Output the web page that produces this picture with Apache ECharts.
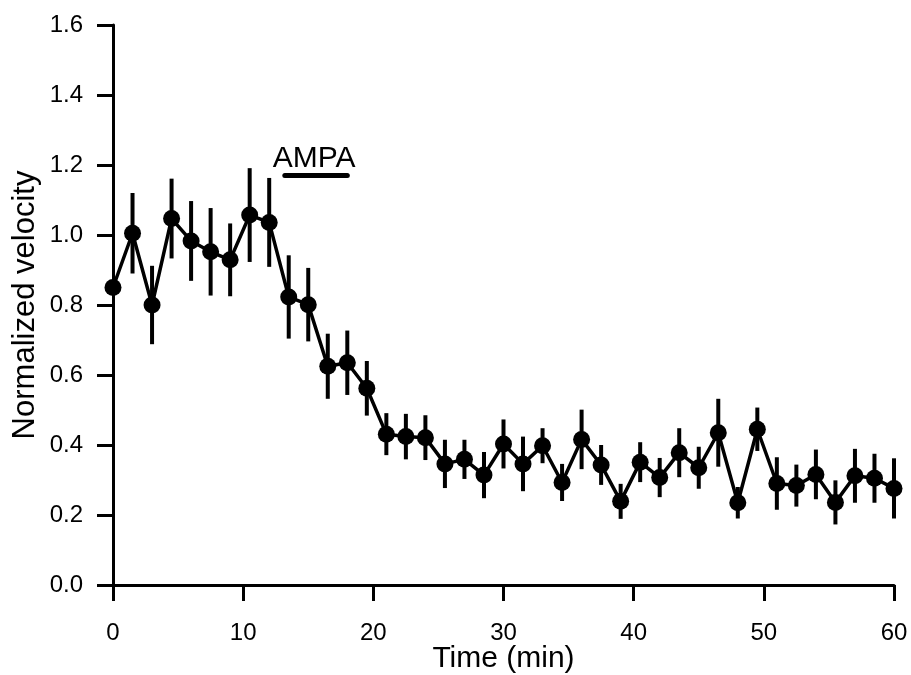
<!DOCTYPE html>
<html>
<head>
<meta charset="utf-8">
<title>Normalized velocity</title>
<script src="https://cdn.jsdelivr.net/npm/echarts@6/dist/echarts.min.js"></script>
<style>
  html, body { margin: 0; padding: 0; background: #fff; }
  #main { width: 911px; height: 675px; }
</style>
</head>
<body>
<div id="main"></div>
<script>
// time points (min)
var times = [0, 1.5, 3, 4.5, 6, 7.5, 9, 10.5, 12, 13.5, 15, 16.5, 18, 19.5, 21, 22.5, 24, 25.5, 27, 28.5,
             30, 31.5, 33, 34.5, 36, 37.5, 39, 40.5, 42, 43.5, 45, 46.5, 48, 49.5, 51, 52.5, 54, 55.5, 57, 58.5, 60];
// normalized velocity, mean
var velocity = [0.85, 1.005, 0.80, 1.047, 0.983, 0.952, 0.929, 1.057, 1.036, 0.823, 0.801, 0.625, 0.635, 0.562,
                0.431, 0.424, 0.421, 0.346, 0.359, 0.314, 0.403, 0.346, 0.398, 0.293, 0.416, 0.343, 0.239,
                0.351, 0.307, 0.378, 0.335, 0.435, 0.235, 0.445, 0.29, 0.284, 0.316, 0.236, 0.312, 0.305, 0.276];
// error (half length of bar)
var sem = [0, 0.115, 0.112, 0.114, 0.114, 0.125, 0.104, 0.134, 0.127, 0.119, 0.105, 0.093, 0.092, 0.078,
           0.06, 0.065, 0.064, 0.069, 0.056, 0.066, 0.07, 0.078, 0.05, 0.053, 0.085, 0.057, 0.05,
           0.057, 0.056, 0.07, 0.06, 0.097, 0.045, 0.062, 0.075, 0.06, 0.071, 0.063, 0.077, 0.07, 0.086];
// drug application bar
var ampaLabel = 'AMPA';
var ampaStart = 13.2;
var ampaEnd = 18.0;
var ampaLevel = 1.17;

var yTicks = [0, 0.2, 0.4, 0.6, 0.8, 1.0, 1.2, 1.4, 1.6];
var xTicks = [0, 10, 20, 30, 40, 50, 60];

var fontName = '"Liberation Sans", Arial, sans-serif';

var points = [];
var errs = [];
for (var i = 0; i < times.length; i++) {
  points.push([times[i], velocity[i]]);
  errs.push([times[i], velocity[i] - sem[i], velocity[i] + sem[i]]);
}

var chart = echarts.init(document.getElementById('main'));
var option = {
  animation: false,
  backgroundColor: '#fff',
  grid: { left: 113, right: 17, top: 25, bottom: 90, containLabel: false, outerBoundsMode: 'none' },
  xAxis: {
    type: 'value',
    min: xTicks[0],
    max: xTicks[xTicks.length - 1],
    interval: 10,
    name: 'Time (min)',
    nameLocation: 'middle',
    nameGap: 59,
    nameMoveOverlap: false,
    nameTextStyle: { fontFamily: fontName, fontSize: 30, color: '#000' },
    axisLine: { lineStyle: { color: '#000', width: 3 } },
    axisTick: { length: 16, lineStyle: { color: '#000', width: 3 } },
    axisLabel: { margin: 36, fontFamily: fontName, fontSize: 24, color: '#000' },
    splitLine: { show: false }
  },
  yAxis: {
    type: 'value',
    min: yTicks[0],
    max: yTicks[yTicks.length - 1],
    interval: 0.2,
    name: 'Normalized velocity',
    nameLocation: 'middle',
    nameGap: 72,
    nameMoveOverlap: false,
    nameTextStyle: { fontFamily: fontName, fontSize: 31, color: '#000' },
    axisLine: { show: true, lineStyle: { color: '#000', width: 3 } },
    axisTick: { show: true, length: 16, lineStyle: { color: '#000', width: 3 } },
    axisLabel: {
      margin: 30, fontFamily: fontName, fontSize: 24, color: '#000',
      formatter: function (v) { return v.toFixed(1); }
    },
    splitLine: { show: false }
  },
  series: [
    {
      type: 'custom',
      name: 'error',
      data: errs,
      z: 2,
      renderItem: function (params, api) {
        var p1 = api.coord([api.value(0), api.value(1)]);
        var p2 = api.coord([api.value(0), api.value(2)]);
        return {
          type: 'line',
          shape: { x1: p1[0], y1: p1[1], x2: p2[0], y2: p2[1] },
          style: { stroke: '#000', lineWidth: 4 }
        };
      }
    },
    {
      type: 'line',
      name: 'velocity',
      data: points,
      z: 3,
      symbol: 'circle',
      symbolSize: 17,
      itemStyle: { color: '#000' },
      lineStyle: { color: '#000', width: 3.5 }
    },
    {
      type: 'custom',
      name: 'ampa',
      data: [[ampaStart, ampaEnd, ampaLevel]],
      z: 4,
      renderItem: function (params, api) {
        var a = api.coord([api.value(0), api.value(2)]);
        var b = api.coord([api.value(1), api.value(2)]);
        return {
          type: 'group',
          children: [
            {
              type: 'line',
              shape: { x1: a[0], y1: a[1], x2: b[0], y2: b[1] },
              style: { stroke: '#000', lineWidth: 5, lineCap: 'round' }
            },
            {
              type: 'text',
              style: {
                text: ampaLabel,
                x: (a[0] + b[0]) / 2 - 2,
                y: a[1] - 2,
                align: 'center',
                verticalAlign: 'bottom',
                fill: '#000',
                font: '30px ' + fontName
              }
            }
          ]
        };
      }
    }
  ]
};
chart.setOption(option);
</script>
</body>
</html>
